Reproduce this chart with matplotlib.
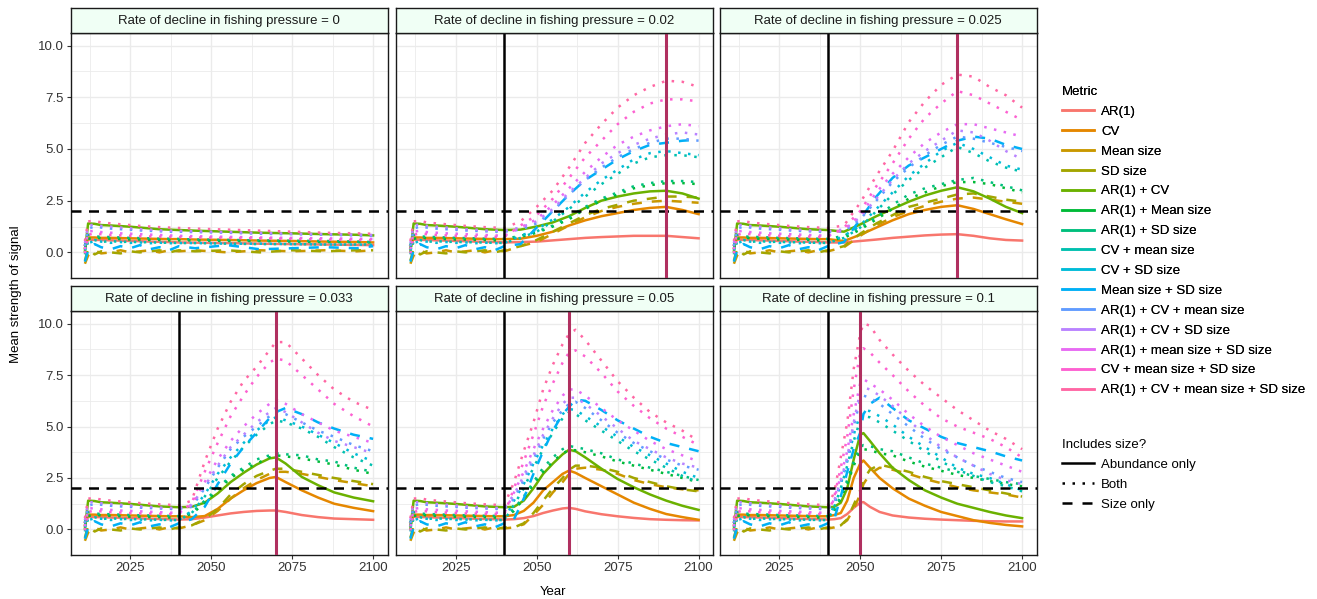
import matplotlib

matplotlib.use("Agg")
import matplotlib.pyplot as plt
from matplotlib.lines import Line2D

plt.rcParams.update({"font.family": ["Liberation Sans", "DejaVu Sans"], "font.size": 9.5})

METRICS = [
    "AR(1)", "CV", "Mean size", "SD size", "AR(1) + CV", "AR(1) + Mean size",
    "AR(1) + SD size", "CV + mean size", "CV + SD size", "Mean size + SD size",
    "AR(1) + CV + mean size", "AR(1) + CV + SD size", "AR(1) + mean size + SD size",
    "CV + mean size + SD size", "AR(1) + CV + mean size + SD size",
]
COLOURS = [
    "#F8766D", "#E58700", "#C99800", "#A3A500", "#6BB100", "#00BA38", "#00BF7D",
    "#00C0AF", "#00BCD8", "#00B0F6", "#619CFF", "#B983FF", "#E76BF3", "#FD61D1", "#FF67A4",
]
INCLUDES_SIZE = [
    "Abundance only", "Abundance only", "Size only", "Size only", "Abundance only",
    "Both", "Both", "Both", "Both", "Size only", "Both", "Both", "Both", "Both", "Both",
]
SIZE_GROUPS = ["Abundance only", "Both", "Size only"]

RATES = ["0", "0.02", "0.025", "0.033", "0.05", "0.1"]
DECLINE_START = [None, 2040, 2040, 2040, 2040, 2040]
DECLINE_END = [None, 2090, 2080, 2070, 2060, 2050]
THRESHOLD = 2

# same simulated history before fishing pressure starts to fall
BASE_YEARS = [2011, 2012, 2014, 2016, 2019, 2022, 2025, 2028, 2031, 2034, 2037, 2040]
BASELINE = {
    "AR(1)": [0.35, 0.62, 0.6, 0.6, 0.58, 0.57, 0.55, 0.54, 0.52, 0.51, 0.5, 0.48],
    "CV": [0.2, 0.72, 0.72, 0.7, 0.7, 0.69, 0.68, 0.67, 0.66, 0.65, 0.64, 0.64],
    "Mean size": [-0.55, -0.15, 0.1, -0.05, 0.0, 0.1, 0.0, 0.05, 0.1, 0.0, 0.1, 0.05],
    "SD size": [-0.4, 0.2, -0.1, 0.05, 0.0, -0.05, 0.05, 0.0, 0.05, 0.1, 0.0, 0.1],
    "AR(1) + CV": [0.05, 1.4, 1.38, 1.32, 1.3, 1.27, 1.24, 1.2, 1.16, 1.12, 1.1, 1.08],
    "AR(1) + Mean size": [0.2, 0.65, 0.72, 0.68, 0.66, 0.64, 0.62, 0.62, 0.6, 0.6, 0.58, 0.58],
    "AR(1) + SD size": [0.35, 0.85, 0.78, 0.75, 0.74, 0.72, 0.7, 0.69, 0.68, 0.66, 0.66, 0.65],
    "CV + mean size": [-0.1, 0.55, 0.6, 0.5, 0.55, 0.5, 0.52, 0.48, 0.5, 0.46, 0.47, 0.45],
    "CV + SD size": [0.1, 0.45, 0.55, 0.52, 0.46, 0.5, 0.46, 0.48, 0.44, 0.47, 0.44, 0.45],
    "Mean size + SD size": [-0.45, 0.1, 0.4, 0.25, 0.15, 0.3, 0.2, 0.35, 0.15, 0.25, 0.1, 0.3],
    "AR(1) + CV + mean size": [0.3, 1.15, 1.25, 1.2, 1.15, 1.12, 1.1, 1.06, 1.04, 1.02, 1.0, 1.0],
    "AR(1) + CV + SD size": [0.45, 1.3, 1.35, 1.28, 1.24, 1.2, 1.16, 1.12, 1.1, 1.06, 1.05, 1.04],
    "AR(1) + mean size + SD size": [0.15, 1.0, 1.05, 0.98, 0.95, 0.92, 0.9, 0.88, 0.86, 0.84, 0.82, 0.8],
    "CV + mean size + SD size": [-0.05, 0.85, 0.92, 0.88, 0.84, 0.82, 0.8, 0.78, 0.77, 0.76, 0.75, 0.74],
    "AR(1) + CV + mean size + SD size": [0.55, 1.5, 1.52, 1.45, 1.4, 1.36, 1.32, 1.28, 1.25, 1.22, 1.2, 1.18],
}

# after 2040, one block per rate of decline
YEARS_R0 = [2045, 2055, 2065, 2075, 2085, 2095, 2100]
R0 = {
    "AR(1)": [0.47, 0.45, 0.42, 0.4, 0.38, 0.36, 0.35],
    "CV": [0.62, 0.6, 0.57, 0.55, 0.52, 0.5, 0.48],
    "Mean size": [0.1, 0.0, 0.1, 0.05, 0.1, 0.05, 0.1],
    "SD size": [0.05, 0.1, 0.0, 0.1, 0.05, 0.1, 0.1],
    "AR(1) + CV": [1.05, 1.0, 0.95, 0.92, 0.88, 0.85, 0.82],
    "AR(1) + Mean size": [0.58, 0.55, 0.55, 0.52, 0.5, 0.5, 0.48],
    "AR(1) + SD size": [0.62, 0.6, 0.58, 0.56, 0.55, 0.52, 0.5],
    "CV + mean size": [0.45, 0.42, 0.4, 0.4, 0.38, 0.38, 0.38],
    "CV + SD size": [0.45, 0.42, 0.42, 0.4, 0.38, 0.38, 0.36],
    "Mean size + SD size": [0.2, 0.35, 0.15, 0.2, 0.25, 0.2, 0.3],
    "AR(1) + CV + mean size": [0.98, 0.95, 0.9, 0.88, 0.85, 0.82, 0.8],
    "AR(1) + CV + SD size": [1.02, 0.98, 0.94, 0.9, 0.88, 0.86, 0.84],
    "AR(1) + mean size + SD size": [0.78, 0.75, 0.72, 0.7, 0.68, 0.66, 0.65],
    "CV + mean size + SD size": [0.72, 0.7, 0.68, 0.65, 0.62, 0.6, 0.6],
    "AR(1) + CV + mean size + SD size": [1.15, 1.1, 1.05, 1.0, 0.95, 0.92, 0.9],
}

YEARS_R002 = [2045, 2050, 2055, 2060, 2065, 2070, 2075, 2080, 2085, 2090, 2095, 2100]
R002 = {
    "AR(1)": [0.5, 0.52, 0.58, 0.64, 0.7, 0.74, 0.77, 0.8, 0.8, 0.8, 0.74, 0.68],
    "CV": [0.66, 0.8, 1.0, 1.3, 1.55, 1.75, 1.9, 2.05, 2.15, 2.2, 2.05, 1.85],
    "Mean size": [0.3, 0.5, 0.9, 1.3, 1.7, 2.0, 2.2, 2.35, 2.45, 2.5, 2.45, 2.4],
    "SD size": [0.3, 0.6, 1.0, 1.4, 1.8, 2.1, 2.3, 2.5, 2.6, 2.7, 2.7, 2.65],
    "AR(1) + CV": [1.1, 1.25, 1.45, 1.75, 2.15, 2.5, 2.7, 2.85, 2.95, 2.98, 2.85, 2.6],
    "AR(1) + Mean size": [0.75, 0.95, 1.25, 1.6, 2.1, 2.5, 2.8, 3.1, 3.25, 3.35, 3.35, 3.3],
    "AR(1) + SD size": [0.8, 1.0, 1.3, 1.7, 2.2, 2.6, 2.9, 3.2, 3.35, 3.45, 3.45, 3.4],
    "CV + mean size": [0.7, 1.0, 1.5, 2.1, 2.7, 3.3, 3.8, 4.3, 4.6, 4.7, 4.7, 4.6],
    "CV + SD size": [0.8, 1.1, 1.6, 2.2, 2.9, 3.5, 4.0, 4.5, 4.8, 4.9, 4.8, 4.7],
    "Mean size + SD size": [0.4, 1.2, 2.0, 2.8, 3.5, 4.0, 4.5, 4.9, 5.2, 5.3, 5.4, 5.45],
    "AR(1) + CV + mean size": [1.1, 1.4, 2.0, 2.8, 3.5, 4.1, 4.6, 5.0, 5.3, 5.5, 5.5, 5.4],
    "AR(1) + CV + SD size": [1.2, 1.5, 2.1, 2.9, 3.6, 4.3, 4.8, 5.2, 5.5, 5.7, 5.8, 5.7],
    "AR(1) + mean size + SD size": [1.2, 1.6, 2.3, 3.1, 3.9, 4.6, 5.2, 5.6, 5.9, 6.1, 6.2, 6.1],
    "CV + mean size + SD size": [1.3, 1.8, 2.6, 3.6, 4.6, 5.4, 6.2, 6.8, 7.2, 7.4, 7.4, 7.3],
    "AR(1) + CV + mean size + SD size": [1.5, 2.2, 3.0, 4.1, 5.3, 6.2, 7.0, 7.6, 8.0, 8.3, 8.25, 8.0],
}

YEARS_R0025 = [2045, 2050, 2055, 2060, 2065, 2070, 2075, 2080, 2085, 2090, 2095, 2100]
R0025 = {
    "AR(1)": [0.48, 0.55, 0.62, 0.7, 0.76, 0.82, 0.86, 0.88, 0.8, 0.68, 0.6, 0.57],
    "CV": [0.55, 0.85, 1.2, 1.55, 1.85, 2.05, 2.2, 2.28, 2.1, 1.85, 1.6, 1.37],
    "Mean size": [0.25, 0.8, 1.3, 1.7, 2.0, 2.25, 2.45, 2.6, 2.65, 2.55, 2.45, 2.35],
    "SD size": [0.3, 0.9, 1.4, 1.8, 2.2, 2.4, 2.6, 2.8, 2.85, 2.7, 2.55, 2.45],
    "AR(1) + CV": [1.0, 1.35, 1.75, 2.1, 2.45, 2.75, 2.98, 3.15, 2.95, 2.6, 2.2, 1.9],
    "AR(1) + Mean size": [0.7, 1.1, 1.6, 2.1, 2.6, 2.9, 3.2, 3.4, 3.4, 3.3, 3.1, 2.9],
    "AR(1) + SD size": [0.8, 1.2, 1.7, 2.3, 2.8, 3.1, 3.3, 3.5, 3.6, 3.4, 3.2, 3.0],
    "CV + mean size": [0.7, 1.2, 2.0, 2.8, 3.5, 4.1, 4.6, 5.1, 4.8, 4.4, 4.1, 3.9],
    "CV + SD size": [0.8, 1.3, 2.1, 2.9, 3.7, 4.3, 4.9, 5.3, 5.0, 4.6, 4.2, 4.0],
    "Mean size + SD size": [0.5, 1.6, 2.7, 3.6, 4.2, 4.6, 5.0, 5.4, 5.6, 5.5, 5.2, 5.0],
    "AR(1) + CV + mean size": [1.0, 1.6, 2.5, 3.4, 4.1, 4.7, 5.2, 5.6, 5.5, 5.3, 5.1, 4.9],
    "AR(1) + CV + SD size": [1.1, 1.7, 2.6, 3.5, 4.3, 4.9, 5.4, 5.9, 5.8, 5.4, 4.9, 4.5],
    "AR(1) + mean size + SD size": [1.1, 1.8, 2.9, 3.8, 4.6, 5.3, 5.8, 6.2, 6.2, 6.0, 5.8, 5.6],
    "CV + mean size + SD size": [1.2, 2.0, 3.2, 4.3, 5.5, 6.5, 7.2, 7.8, 7.6, 7.2, 6.8, 6.4],
    "AR(1) + CV + mean size + SD size": [1.3, 2.4, 3.7, 4.9, 6.3, 7.3, 8.1, 8.6, 8.5, 8.0, 7.6, 7.0],
}

YEARS_R0033 = [2044, 2048, 2052, 2056, 2060, 2064, 2068, 2070, 2073, 2078, 2083, 2088, 2094, 2100]
R0033 = {
    "AR(1)": [0.5, 0.58, 0.68, 0.78, 0.85, 0.9, 0.92, 0.92, 0.85, 0.7, 0.6, 0.53, 0.5, 0.47],
    "CV": [0.6, 0.65, 1.0, 1.5, 1.9, 2.25, 2.5, 2.55, 2.3, 1.9, 1.55, 1.25, 1.05, 0.89],
    "Mean size": [0.2, 0.45, 0.9, 1.5, 2.0, 2.4, 2.7, 2.8, 2.8, 2.7, 2.55, 2.4, 2.25, 2.1],
    "SD size": [0.2, 0.5, 1.0, 1.7, 2.2, 2.6, 2.85, 2.95, 2.95, 2.8, 2.65, 2.5, 2.35, 2.2],
    "AR(1) + CV": [1.1, 1.3, 1.75, 2.3, 2.75, 3.15, 3.45, 3.5, 3.2, 2.55, 2.15, 1.8, 1.55, 1.37],
    "AR(1) + Mean size": [0.75, 1.3, 1.9, 2.5, 2.9, 3.2, 3.5, 3.6, 3.55, 3.45, 3.3, 3.15, 2.9, 2.7],
    "AR(1) + SD size": [0.8, 1.4, 2.0, 2.6, 3.0, 3.4, 3.6, 3.7, 3.65, 3.6, 3.4, 3.3, 3.0, 2.8],
    "CV + mean size": [0.8, 1.6, 2.5, 3.3, 4.0, 4.6, 5.1, 5.3, 5.2, 4.9, 4.5, 4.0, 3.5, 3.1],
    "CV + SD size": [0.9, 1.7, 2.7, 3.5, 4.2, 4.8, 5.3, 5.45, 5.3, 5.0, 4.6, 4.2, 3.7, 3.3],
    "Mean size + SD size": [0.5, 1.1, 2.2, 3.2, 4.0, 4.7, 5.4, 5.7, 5.9, 5.6, 5.2, 4.9, 4.6, 4.4],
    "AR(1) + CV + mean size": [1.1, 2.0, 3.0, 3.9, 4.5, 5.0, 5.5, 5.7, 5.6, 5.2, 4.8, 4.5, 4.1, 3.8],
    "AR(1) + CV + SD size": [1.2, 2.1, 3.1, 4.0, 4.6, 5.2, 5.7, 5.9, 5.7, 5.2, 4.7, 4.3, 4.0, 3.7],
    "AR(1) + mean size + SD size": [1.2, 2.3, 3.4, 4.3, 5.0, 5.6, 6.1, 6.3, 6.1, 5.6, 5.2, 4.8, 4.5, 4.2],
    "CV + mean size + SD size": [1.3, 2.8, 4.2, 5.5, 6.5, 7.4, 8.1, 8.3, 8.2, 7.5, 6.8, 6.1, 5.5, 5.0],
    "AR(1) + CV + mean size + SD size": [1.4, 3.3, 4.9, 6.2, 7.2, 7.9, 8.7, 9.1, 9.1, 8.3, 7.5, 6.8, 6.2, 5.8],
}

YEARS_R005 = [2043, 2046, 2049, 2052, 2055, 2058, 2060, 2062, 2065, 2070, 2075, 2080, 2085, 2090, 2095, 2100]
R005 = {
    "AR(1)": [0.5, 0.55, 0.65, 0.8, 0.92, 1.02, 1.05, 1.0, 0.88, 0.74, 0.64, 0.56, 0.5, 0.47, 0.45, 0.44],
    "CV": [0.7, 0.9, 1.3, 1.9, 2.3, 2.7, 2.86, 2.75, 2.5, 2.1, 1.7, 1.3, 1.0, 0.75, 0.6, 0.47],
    "Mean size": [0.1, 0.25, 0.7, 1.2, 1.8, 2.3, 2.7, 2.95, 3.0, 2.9, 2.7, 2.4, 2.2, 2.05, 1.95, 1.9],
    "SD size": [0.1, 0.3, 0.8, 1.4, 2.0, 2.5, 2.9, 3.1, 3.1, 3.0, 2.8, 2.5, 2.3, 2.1, 1.95, 1.85],
    "AR(1) + CV": [1.1, 1.4, 2.0, 2.7, 3.2, 3.65, 3.87, 3.8, 3.5, 2.95, 2.45, 2.05, 1.7, 1.4, 1.15, 0.95],
    "AR(1) + Mean size": [0.9, 1.5, 2.2, 2.8, 3.3, 3.7, 3.85, 3.85, 3.75, 3.55, 3.3, 3.1, 2.9, 2.7, 2.5, 2.3],
    "AR(1) + SD size": [1.0, 1.6, 2.3, 3.0, 3.5, 3.9, 4.05, 4.0, 3.9, 3.7, 3.4, 3.2, 3.0, 2.8, 2.6, 2.4],
    "CV + mean size": [1.2, 2.0, 3.0, 3.9, 4.7, 5.4, 5.7, 5.6, 5.3, 4.8, 4.3, 3.8, 3.4, 3.0, 2.6, 2.3],
    "CV + SD size": [1.4, 2.2, 3.2, 4.1, 4.9, 5.6, 5.85, 5.8, 5.5, 5.0, 4.5, 4.0, 3.6, 3.2, 2.8, 2.5],
    "Mean size + SD size": [0.5, 1.5, 2.7, 3.8, 4.8, 5.6, 5.95, 6.3, 6.25, 5.8, 5.3, 4.9, 4.5, 4.2, 4.0, 3.8],
    "AR(1) + CV + mean size": [1.5, 2.4, 3.4, 4.4, 5.2, 5.8, 6.1, 6.2, 5.9, 5.3, 4.7, 4.2, 3.8, 3.4, 3.1, 2.9],
    "AR(1) + CV + SD size": [1.7, 2.6, 3.6, 4.6, 5.4, 6.1, 6.4, 6.4, 6.1, 5.5, 4.9, 4.3, 3.9, 3.5, 3.2, 3.0],
    "AR(1) + mean size + SD size": [1.8, 2.8, 3.9, 4.9, 5.8, 6.5, 6.8, 6.8, 6.5, 5.9, 5.3, 4.8, 4.3, 3.9, 3.6, 3.3],
    "CV + mean size + SD size": [2.0, 3.3, 4.6, 6.0, 7.1, 8.1, 8.6, 8.7, 8.4, 7.6, 6.7, 6.0, 5.4, 4.9, 4.5, 4.1],
    "AR(1) + CV + mean size + SD size": [2.3, 3.8, 5.2, 6.8, 8.0, 9.0, 9.5, 9.7, 9.2, 8.2, 7.2, 6.4, 5.7, 5.2, 4.8, 4.3],
}

YEARS_R01 = [2042, 2044, 2046, 2048, 2050, 2051, 2053, 2056, 2060, 2065, 2070, 2075, 2080, 2085, 2090, 2095, 2100]
R01 = {
    "AR(1)": [0.5, 0.55, 0.75, 1.05, 1.3, 1.33, 1.1, 0.85, 0.68, 0.58, 0.52, 0.48, 0.45, 0.42, 0.4, 0.39, 0.39],
    "CV": [0.7, 0.8, 1.4, 2.5, 3.2, 3.35, 3.0, 2.5, 2.0, 1.5, 1.15, 0.85, 0.65, 0.45, 0.32, 0.22, 0.15],
    "Mean size": [0.1, 0.2, 0.45, 1.0, 1.7, 2.2, 2.7, 3.0, 2.9, 2.7, 2.45, 2.25, 2.05, 1.9, 1.8, 1.7, 1.55],
    "SD size": [0.1, 0.2, 0.5, 1.2, 1.9, 2.4, 2.9, 3.15, 3.0, 2.8, 2.55, 2.35, 2.2, 2.05, 1.9, 1.75, 1.6],
    "AR(1) + CV": [1.1, 1.3, 2.0, 3.4, 4.6, 4.68, 4.3, 3.7, 3.0, 2.4, 1.9, 1.55, 1.25, 1.05, 0.85, 0.68, 0.55],
    "AR(1) + Mean size": [0.9, 1.5, 2.2, 3.1, 3.8, 3.9, 3.85, 3.7, 3.6, 3.3, 3.05, 2.85, 2.65, 2.5, 2.35, 2.2, 2.1],
    "AR(1) + SD size": [1.0, 1.6, 2.4, 3.3, 4.0, 4.1, 4.05, 3.9, 3.8, 3.5, 3.2, 3.0, 2.8, 2.6, 2.45, 2.3, 2.2],
    "CV + mean size": [1.1, 2.0, 3.1, 4.3, 5.3, 5.5, 5.45, 5.2, 4.8, 4.3, 3.8, 3.3, 2.9, 2.6, 2.3, 2.1, 1.85],
    "CV + SD size": [1.2, 2.2, 3.3, 4.6, 5.6, 5.8, 5.75, 5.5, 5.1, 4.5, 4.0, 3.5, 3.0, 2.7, 2.5, 2.2, 1.9],
    "Mean size + SD size": [0.5, 1.6, 2.8, 3.9, 4.7, 5.6, 6.1, 6.4, 5.9, 5.3, 4.9, 4.5, 4.2, 4.0, 3.8, 3.55, 3.35],
    "AR(1) + CV + mean size": [1.3, 2.3, 3.4, 5.0, 6.3, 6.5, 6.4, 6.1, 5.6, 5.0, 4.4, 3.9, 3.5, 3.1, 2.8, 2.5, 2.3],
    "AR(1) + CV + SD size": [1.4, 2.4, 3.5, 5.2, 6.7, 6.9, 6.8, 6.5, 6.0, 5.3, 4.6, 4.0, 3.5, 3.1, 2.7, 2.4, 2.2],
    "AR(1) + mean size + SD size": [1.5, 2.6, 3.8, 5.6, 7.1, 7.3, 7.1, 6.8, 6.3, 5.6, 5.0, 4.5, 4.1, 3.7, 3.4, 3.1, 2.8],
    "CV + mean size + SD size": [1.6, 3.0, 4.5, 6.8, 8.6, 8.8, 8.6, 8.1, 7.5, 6.7, 6.0, 5.4, 5.0, 4.7, 4.4, 4.0, 3.5],
    "AR(1) + CV + mean size + SD size": [1.8, 3.5, 5.2, 7.8, 9.5, 10.0, 9.9, 9.2, 8.5, 7.7, 7.0, 6.4, 5.8, 5.3, 4.8, 4.4, 3.9],
}

TAIL_YEARS = [YEARS_R0, YEARS_R002, YEARS_R0025, YEARS_R0033, YEARS_R005, YEARS_R01]
TAILS = [R0, R002, R0025, R0033, R005, R01]

LINESTYLES = {"Abundance only": "-", "Both": (0, (1, 3)), "Size only": (0, (4, 4))}
LW = 1.8
FS = 9.5


def style_panel(ax, row, col):
    ax.set_xlim(2006.55, 2104.45)
    ax.set_ylim(-1.24, 10.61)
    ax.set_xticks([2025, 2050, 2075, 2100])
    ax.set_xticks([2012.5, 2037.5, 2062.5, 2087.5], minor=True)
    ax.set_yticks([0, 2.5, 5, 7.5, 10])
    ax.set_yticks([1.25, 3.75, 6.25, 8.75], minor=True)
    ax.set_yticklabels(["0.0", "2.5", "5.0", "7.5", "10.0"])
    ax.grid(which="major", color="#EBEBEB", linewidth=1.0, zorder=0)
    ax.grid(which="minor", color="#EBEBEB", linewidth=0.6, zorder=0)
    ax.set_axisbelow(True)
    ax.tick_params(which="minor", length=0)
    ax.tick_params(which="major", length=3, width=0.8, color="#333333",
                   labelcolor="#333333", labelsize=FS, pad=2)
    for s in ax.spines.values():
        s.set_color("#1a1a1a")
        s.set_linewidth(1.0)
    if row == 0:
        ax.tick_params(axis="x", which="major", length=0, labelbottom=False)
    if col > 0:
        ax.tick_params(axis="y", which="major", length=0, labelleft=False)


fig = plt.figure(figsize=(13.17, 5.99), dpi=100)
W, H = 1317, 599
col_left = [70.5, 396, 719.5]
panel_w = 317
row_top = [33, 311]
panel_h = [245, 244]
strip_h = 25

for i, rate in enumerate(RATES):
    row, col = divmod(i, 3)
    x0 = col_left[col]
    top = row_top[row]
    ax = fig.add_axes([x0 / W, 1 - (top + panel_h[row]) / H, panel_w / W, panel_h[row] / H])
    style_panel(ax, row, col)

    years = BASE_YEARS + TAIL_YEARS[i]
    for k, m in enumerate(METRICS):
        vals = BASELINE[m] + TAILS[i][m]
        ax.plot(years, vals, color=COLOURS[k], linewidth=LW,
                linestyle=LINESTYLES[INCLUDES_SIZE[k]], zorder=2 + k * 0.01)

    ax.axhline(THRESHOLD, color="black", linewidth=1.8, linestyle=(0, (4, 3)), zorder=5)
    if DECLINE_START[i] is not None:
        ax.axvline(DECLINE_START[i], color="black", linewidth=1.8, zorder=5)
        ax.axvline(DECLINE_END[i], color="#B03060", linewidth=2.2, zorder=5)

    sax = fig.add_axes([x0 / W, 1 - top / H, panel_w / W, strip_h / H])
    sax.set_facecolor("#F0FFF5")
    sax.set_xticks([])
    sax.set_yticks([])
    for s in sax.spines.values():
        s.set_color("#1a1a1a")
        s.set_linewidth(1.0)
    sax.text(0.5, 0.48, f"Rate of decline in fishing pressure = {rate}",
             ha="center", va="center", fontsize=FS, color="#1a1a1a", transform=sax.transAxes)

fig.text(16 / W, 1 - 294 / H, "Mean strength of signal", rotation=90,
         ha="center", va="center", fontsize=FS)
fig.text(553 / W, 1 - 592 / H, "Year", ha="center", va="center", fontsize=FS)

metric_handles = [Line2D([], [], color=c, linewidth=LW) for c in COLOURS]
leg1 = fig.legend(metric_handles, METRICS, title="Metric", loc="upper left",
                  bbox_to_anchor=(1062 / W, 1 - 86 / H), frameon=False,
                  alignment="left", fontsize=FS, title_fontsize=FS,
                  handlelength=2.4, handletextpad=0.55, labelspacing=0.58,
                  borderaxespad=0, borderpad=0)
size_handles = [Line2D([], [], color="black", linewidth=LW, linestyle=LINESTYLES[g])
                for g in SIZE_GROUPS]
leg2 = fig.legend(size_handles, SIZE_GROUPS, title="Includes size?", loc="upper left",
                  bbox_to_anchor=(1062 / W, 1 - 439 / H), frameon=False,
                  alignment="left", fontsize=FS, title_fontsize=FS,
                  handlelength=2.4, handletextpad=0.55, labelspacing=0.58,
                  borderaxespad=0, borderpad=0)
fig.add_artist(leg1)

fig.savefig("out.png", dpi=100)
